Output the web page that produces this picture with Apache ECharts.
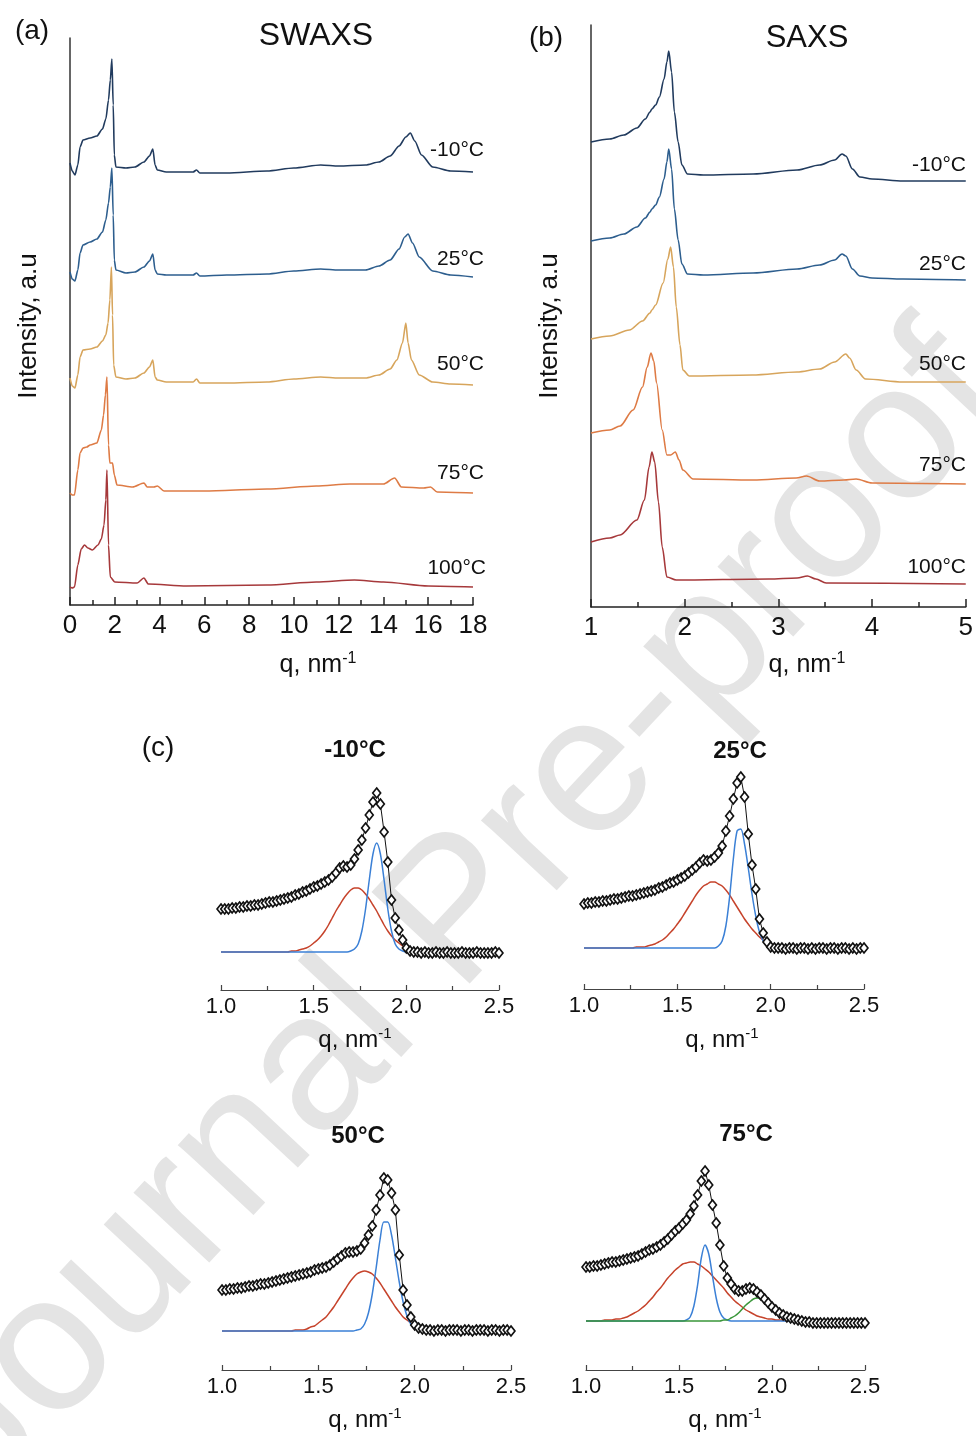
<!DOCTYPE html>
<html>
<head>
<meta charset="utf-8">
<script src="https://cdn.jsdelivr.net/npm/echarts@6/dist/echarts.min.js"></script>
<style>
  html, body { margin: 0; padding: 0; background: #fff; }
  #chart-wrapper { width: 976px; height: 1436px; }
</style>
</head>
<body>
<div id="chart-wrapper"></div>
<script>
// ---- (a) SWAXS, [q, intensity a.u. incl. stacking offset]
const swaxsM10 = [[0,442],[0.1,434],[0.22,430],[0.35,440],[0.45,458],[0.58,465],[0.9,467],[1.2,469],[1.45,476],[1.6,486],[1.72,505],[1.8,525],[1.87,546],[1.93,500],[1.98,450],[2.05,438],[2.5,437],[2.9,438],[3.3,443],[3.55,449],[3.7,456],[3.8,440],[3.9,435],[4.3,433],[5.5,433],[5.65,435],[5.8,432],[7,432],[8.8,434],[10,437],[11.2,440],[12,439],[13.2,440],[13.8,443],[14.3,449],[14.7,459],[15.0,468],[15.2,472],[15.4,464],[15.7,450],[16.2,438],[17,434],[18,433]];
const swaxs25 = [[0,333],[0.1,326],[0.22,324],[0.35,335],[0.45,352],[0.58,360],[0.9,363],[1.2,366],[1.45,373],[1.6,385],[1.72,402],[1.8,418],[1.87,437],[1.93,390],[1.98,345],[2.05,335],[2.5,332],[2.9,333],[3.3,338],[3.55,344],[3.7,351],[3.8,335],[3.9,331],[4.3,330],[5.5,330],[5.65,332],[5.8,329],[7,330],[8.8,331],[10,334],[11.2,336],[12,335],[13.2,335],[13.8,339],[14.3,345],[14.7,356],[14.95,368],[15.1,371],[15.3,362],[15.6,348],[16.2,334],[17,330],[18,328]];
const swaxs50 = [[0,227],[0.1,219],[0.22,217],[0.35,230],[0.45,248],[0.58,255],[0.9,256],[1.2,258],[1.45,264],[1.6,270],[1.7,282],[1.78,305],[1.85,338],[1.9,290],[1.95,240],[2.05,228],[2.5,226],[2.9,227],[3.3,232],[3.55,238],[3.7,245],[3.8,228],[3.9,225],[4.3,223],[5.5,223],[5.65,226],[5.8,222],[7,222],[8.8,223],[10,226],[11.2,228],[12,227],[13.2,227],[13.8,230],[14.3,236],[14.6,245],[14.85,262],[15.0,282],[15.1,262],[15.25,245],[15.6,230],[16.2,223],[17,221],[18,220]];
const swaxs75 = [[0,112],[0.1,110],[0.2,110],[0.35,135],[0.45,152],[0.58,157],[0.75,158],[0.9,160],[1.2,162],[1.4,175],[1.5,190],[1.58,210],[1.65,228],[1.72,160],[1.78,142],[1.9,142],[1.98,130],[2.1,120],[2.8,118],[3.3,122],[3.45,118],[3.75,118],[3.9,119],[4.2,114],[6,114],[8.8,116],[11,119],[12.5,121],[14,121],[14.5,127],[14.8,118],[15.8,117],[16.1,118],[16.4,113],[18,112]];
const swaxs100 = [[0,18],[0.1,17],[0.2,18],[0.35,40],[0.5,56],[0.65,60],[0.8,57],[1.0,55],[1.25,60],[1.4,66],[1.52,80],[1.6,105],[1.65,135],[1.72,60],[1.8,28],[2.0,23],[3.0,22],[3.3,27],[3.5,21],[5.2,19],[8.8,20],[11,23],[12.7,25],[14,23],[16,19],[18,18]];

// ---- (b) SAXS
const saxsM10 = [[1.0,465],[1.2,468],[1.35,472],[1.49,479],[1.58,488],[1.63,495],[1.65,498],[1.69,502],[1.73,510],[1.78,528],[1.81,545],[1.83,556],[1.86,535],[1.89,495],[1.93,465],[1.97,442],[2.03,433],[2.2,432],[2.73,433],[3.2,437],[3.44,442],[3.6,447],[3.68,453],[3.72,451],[3.79,438],[3.87,430],[4.0,428],[4.33,426],[5,426]];
const saxs25 = [[1.0,366],[1.2,369],[1.35,373],[1.49,380],[1.58,389],[1.63,395],[1.65,398],[1.69,402],[1.73,410],[1.78,428],[1.81,445],[1.83,458],[1.86,438],[1.89,398],[1.93,367],[1.97,343],[2.03,333],[2.2,332],[2.73,334],[3.2,338],[3.44,342],[3.6,347],[3.68,353],[3.72,351],[3.79,338],[3.87,331],[4.0,329],[4.33,328],[5,327]];
const saxs50 = [[1.0,268],[1.2,271],[1.41,277],[1.55,286],[1.63,294],[1.65,297],[1.69,302],[1.77,324],[1.82,348],[1.85,360],[1.88,340],[1.91,300],[1.95,262],[1.98,237],[2.05,231],[2.72,232],[3.2,235],[3.44,238],[3.6,245],[3.72,253],[3.76,249],[3.83,237],[3.93,228],[4.33,225],[5,225]];
const saxs75 = [[1.0,174],[1.2,177],[1.31,181],[1.45,197],[1.55,220],[1.6,240],[1.64,254],[1.67,246],[1.70,224],[1.76,177],[1.81,152],[1.85,152],[1.9,155],[1.94,147],[1.98,137],[2.09,128],[2.73,127],[3.19,129],[3.3,131],[3.44,126],[3.7,127],[3.83,128],[4.0,124],[5,123]];
const saxs100 = [[1.0,65],[1.2,69],[1.31,72],[1.49,87],[1.57,107],[1.62,140],[1.65,155],[1.68,145],[1.72,105],[1.76,60],[1.81,30],[1.91,27],[2.9,28],[3.2,29],[3.31,31],[3.4,28],[3.51,24],[5,23]];

// ---- (c) peak fits: everything on one q grid
const qFit = [1.00,1.02,1.04,1.06,1.08,1.10,1.12,1.14,1.16,1.18,1.20,1.22,1.24,1.26,1.28,1.30,1.32,1.34,1.36,1.38,1.40,1.42,1.44,1.46,1.48,1.50,1.52,1.54,1.56,1.58,1.60,1.62,1.64,1.66,1.68,1.70,1.72,1.74,1.76,1.78,1.80,1.82,1.84,1.86,1.88,1.90,1.92,1.94,1.96,1.98,2.00,2.02,2.04,2.06,2.08,2.10,2.12,2.14,2.16,2.18,2.20,2.22,2.24,2.26,2.28,2.30,2.32,2.34,2.36,2.38,2.40,2.42,2.44,2.46,2.48,2.50];

// measured
const expM10 = [81,81,81,82,82,83,83,84,84,85,85,86,87,88,88,89,90,91,92,93,95,96,98,99,101,103,104,106,108,110,113,117,122,124,123,125,131,140,150,162,175,188,197,186,158,128,90,72,60,50,42,39,38,38,37,38,37,37,38,37,37,38,37,37,37,38,37,37,37,38,37,37,37,37,38,37];
const exp25 = [85,86,86,87,87,88,88,89,90,90,91,92,93,93,94,95,96,97,98,99,101,102,104,106,107,109,111,113,116,119,122,126,129,128,129,132,136,143,158,173,190,206,212,192,155,124,100,70,56,47,42,41,41,41,40,41,41,40,41,41,40,41,40,41,41,40,41,41,40,41,41,40,41,40,41,41];
const exp50 = [80,80,81,81,82,82,83,84,84,85,86,86,87,88,89,90,91,92,93,94,95,96,97,98,100,101,102,103,105,108,111,114,117,118,118,119,121,127,135,144,160,175,192,190,177,160,115,80,65,53,45,42,41,40,40,39,40,40,39,40,40,40,39,40,40,39,40,40,40,39,40,40,39,40,40,39];
const exp75 = [103,103,104,104,105,106,107,108,108,109,110,111,112,113,114,116,118,120,121,123,125,128,131,135,139,142,146,150,156,164,175,189,199,185,165,147,125,104,92,86,81,79,79,81,82,81,78,75,71,67,63,60,57,55,53,52,51,50,49,48,48,47,47,47,47,47,47,47,47,47,47,47,47,47,47,47];

// fitted components
const redM10 = [38,38,38,38,38,38,38,38,38,38,38,38,38,38,38,38,38,38,38,39,39,40,41,42,44,47,50,54,59,65,72,79,85,91,96,100,102,102,100,96,91,85,79,72,65,59,54,50,47,44,42,41,40,39,39,38,38,38,38,38,38,38,38,38,38,38,38,38,38,38,38,38,38,38,38,38];
const blueM10 = [38,38,38,38,38,38,38,38,38,38,38,38,38,38,38,38,38,38,38,38,38,38,38,38,38,38,38,38,38,38,38,38,38,38,38,39,41,46,59,81,110,136,147,136,110,81,59,46,41,39,38,38,38,38,38,38,38,38,38,38,38,38,38,38,38,38,38,38,38,38,38,38,38,38,38,38];
const red25 = [41,41,41,41,41,41,41,41,41,41,41,41,41,41,42,42,42,43,44,45,47,49,52,56,60,65,70,76,82,88,94,99,103,105,107,107,105,103,99,94,88,82,76,70,65,60,56,52,49,47,45,44,43,42,42,42,41,41,41,41,41,41,41,41,41,41,41,41,41,41,41,41,41,41,41,41];
const blue25 = [41,41,41,41,41,41,41,41,41,41,41,41,41,41,41,41,41,41,41,41,41,41,41,41,41,41,41,41,41,41,41,41,41,41,41,41,43,48,63,92,130,158,160,145,121,95,73,57,48,44,42,41,41,41,41,41,41,41,41,41,41,41,41,41,41,41,41,41,41,41,41,41,41,41,41,41];
const red50 = [39,39,39,39,39,39,39,39,39,39,39,39,39,39,39,39,39,39,39,40,40,40,41,43,44,47,50,53,58,63,69,75,81,87,92,96,98,99,98,96,92,87,81,75,69,63,58,53,50,47,44,43,41,40,40,40,39,39,39,39,39,39,39,39,39,39,39,39,39,39,39,39,39,39,39,39];
const blue50 = [39,39,39,39,39,39,39,39,39,39,39,39,39,39,39,39,39,39,39,39,39,39,39,39,39,39,39,39,39,39,39,39,39,39,39,40,41,46,57,76,102,130,148,148,135,112,88,68,54,46,42,40,39,39,39,39,39,39,39,39,39,39,39,39,39,39,39,39,39,39,39,39,39,39,39,39];
const red75 = [49,49,49,49,49,50,50,50,51,51,52,53,55,57,59,62,65,69,73,78,82,87,92,96,100,103,106,107,108,108,106,104,101,98,94,90,86,82,77,73,69,66,63,60,58,56,54,53,52,51,51,50,50,50,49,49,49,49,49,49,49,49,49,49,49,49,49,49,49,49,49,49,49,49,49,49];
const blue75 = [49,49,49,49,49,49,49,49,49,49,49,49,49,49,49,49,49,49,49,49,49,49,49,49,49,49,49,50,53,64,85,112,125,116,94,72,58,52,50,49,49,49,49,49,49,49,49,49,49,49,49,49,49,49,49,49,49,49,49,49,49,49,49,49,49,49,49,49,49,49,49,49,49,49,49,49];
const green75 = [49,49,49,49,49,49,49,49,49,49,49,49,49,49,49,49,49,49,49,49,49,49,49,49,49,49,49,49,49,49,49,49,49,49,49,49,49,50,50,52,54,57,61,65,68,71,72,71,68,65,61,57,54,52,50,50,49,49,49,49,49,49,49,49,49,49,49,49,49,49,49,49,49,49,49,49];

const tempLabels = ["-10°C", "25°C", "50°C", "75°C", "100°C"];
const curveColors = ["#213b5e", "#2d5e8e", "#d7a55c", "#de7b45", "#a6393b"];
const FONT = "'Liberation Sans', Arial, sans-serif";

let chart;

const txt = (x, y, text, size, opts = {}) => ({
  type: "text",
  x: x,
  y: y,
  rotation: opts.rotation || 0,
  z: 10,
  style: {
    text: text,
    fontFamily: FONT,
    fontSize: size,
    fontWeight: opts.bold ? "bold" : "normal",
    fill: opts.fill || "#111",
    align: opts.align || "center",
    verticalAlign: "middle",
  },
});

const qName = (x, y, size) => ({
  type: "text",
  x: x,
  y: y,
  z: 10,
  style: {
    text: "{a|q, nm}{b|-1}",
    fontFamily: FONT,
    align: "center",
    verticalAlign: "middle",
    rich: {
      a: { fontFamily: FONT, fontSize: size, lineHeight: size + 4, fill: "#111" },
      b: { fontFamily: FONT, fontSize: Math.round(size * 0.62), verticalAlign: "top", lineHeight: size + 4, padding: [0, 0, 12, 0], fill: "#111" },
    },
  },
});

const qAxis = (gi, min, max, interval, size, big) => ({
  gridIndex: gi,
  type: "value",
  min: min,
  max: max,
  interval: interval,
  axisLine: { lineStyle: { color: big ? "#222" : "#444", width: big ? 1.5 : 1.2 } },
  axisTick: { inside: true, length: big ? 8 : 5, lineStyle: { color: big ? "#222" : "#444", width: big ? 1.5 : 1.2 } },
  minorTick: { show: true, splitNumber: 2, length: big ? 5 : 4, lineStyle: { color: big ? "#222" : "#444", width: big ? 1.5 : 1.2 } },
  splitLine: { show: false },
  axisLabel: {
    fontFamily: FONT,
    fontSize: size,
    color: "#111",
    margin: big ? 8 : 6,
    formatter: big ? null : (v) => v.toFixed(1),
  },
});

const intensityAxis = (gi, max, show) => ({
  gridIndex: gi,
  type: "value",
  min: 0,
  max: max,
  axisLine: { show: show, onZero: false, lineStyle: { color: "#333", width: 1.5 } },
  axisTick: { show: false },
  axisLabel: { show: false },
  splitLine: { show: false },
});

const line = (gi, data, color, width, smooth, mono) => ({
  type: "line",
  xAxisIndex: gi,
  yAxisIndex: gi,
  data: data,
  showSymbol: false,
  smooth: smooth,
  smoothMonotone: mono ? "x" : undefined,
  lineStyle: { color: color, width: width },
  z: 2,
});

const onGrid = (values) => qFit.map((q, i) => [q, values[i]]);

const measured = (gi, values) => ({
  type: "line",
  xAxisIndex: gi,
  yAxisIndex: gi,
  data: onGrid(values),
  symbol: "diamond",
  symbolSize: [8, 10],
  showSymbol: true,
  lineStyle: { color: "#111", width: 1 },
  itemStyle: { color: "#fff", borderColor: "#111", borderWidth: 1.6 },
  z: 5,
});

const init_handler = () => {
  const chartDom = document.getElementById("chart-wrapper");
  chart = echarts.init(chartDom, null, { renderer: "canvas" });

  const swaxs = [swaxsM10, swaxs25, swaxs50, swaxs75, swaxs100];
  const saxs = [saxsM10, saxs25, saxs50, saxs75, saxs100];

  const series = [];
  swaxs.forEach((d, i) => series.push(line(0, d, curveColors[i], 1.6, 0.25, true)));
  saxs.forEach((d, i) => series.push(line(1, d, curveColors[i], 1.6, 0.3, true)));

  const red = "#c6432b", blue = "#3b80d6", green = "#3a973a";
  const fits = [
    [expM10, redM10, blueM10, null],
    [exp25, red25, blue25, null],
    [exp50, red50, blue50, null],
    [exp75, red75, blue75, green75],
  ];
  fits.forEach((f, k) => {
    const gi = k + 2;
    series.push(line(gi, onGrid(f[1]), red, 1.5, 0.3, false));
    series.push(line(gi, onGrid(f[2]), blue, 1.5, 0.3, false));
    if (f[3]) series.push(line(gi, onGrid(f[3]), green, 1.5, 0.3, false));
    series.push(measured(gi, f[0]));
  });

  const aLabelY = [150, 259, 364, 473, 568];
  const bLabelY = [165, 264, 364, 465, 567];

  const graphics = [
    // watermark
    {
      type: "text",
      x: 460,
      y: 915,
      rotation: 0.82,
      z: -10,
      style: {
        text: "Journal Pre-proof",
        fontFamily: FONT,
        fontSize: 195,
        fill: "#e4e4e4",
        align: "center",
        verticalAlign: "middle",
      },
    },
    txt(32, 31, "(a)", 28),
    txt(316, 36, "SWAXS", 32),
    txt(29, 326, "Intensity, a.u", 26, { rotation: Math.PI / 2 }),
    qName(318, 665, 25),
    txt(546, 38, "(b)", 28),
    txt(807, 38, "SAXS", 31),
    txt(550, 326, "Intensity, a.u", 26, { rotation: Math.PI / 2 }),
    qName(807, 665, 25),
    txt(158, 748, "(c)", 28),
    txt(355, 750, "-10°C", 24, { bold: true }),
    txt(740, 751, "25°C", 24, { bold: true }),
    txt(358, 1136, "50°C", 24, { bold: true }),
    txt(746, 1134, "75°C", 24, { bold: true }),
    qName(355, 1040, 24),
    qName(722, 1040, 24),
    qName(365, 1420, 24),
    qName(725, 1420, 24),
  ];
  tempLabels.forEach((t, i) => {
    graphics.push(txt(i === 4 ? 486 : 484, aLabelY[i], t, 21, { align: "right" }));
    graphics.push(txt(966, bLabelY[i], t, 21, { align: "right" }));
  });

  const option = {
    animation: false,
    backgroundColor: "#fff",
    grid: [
      { left: 70, top: 38, width: 403, height: 567 },
      { left: 591, top: 25, width: 376, height: 582 },
      { left: 221, top: 770, width: 278, height: 220 },
      { left: 584, top: 769, width: 280, height: 220 },
      { left: 222, top: 1150, width: 289, height: 220 },
      { left: 586, top: 1150, width: 279, height: 220 },
    ],
    xAxis: [
      qAxis(0, 0, 18, 2, 26, true),
      qAxis(1, 1, 5, 1, 26, true),
      qAxis(2, 1, 2.5, 0.5, 22, false),
      qAxis(3, 1, 2.5, 0.5, 22, false),
      qAxis(4, 1, 2.5, 0.5, 22, false),
      qAxis(5, 1, 2.5, 0.5, 22, false),
    ],
    yAxis: [
      intensityAxis(0, 567, true),
      intensityAxis(1, 582, true),
      intensityAxis(2, 220, false),
      intensityAxis(3, 220, false),
      intensityAxis(4, 220, false),
      intensityAxis(5, 220, false),
    ],
    graphic: { elements: graphics },
    series: series,
  };
  chart.setOption(option);
};

init_handler();
</script>
</body>
</html>
